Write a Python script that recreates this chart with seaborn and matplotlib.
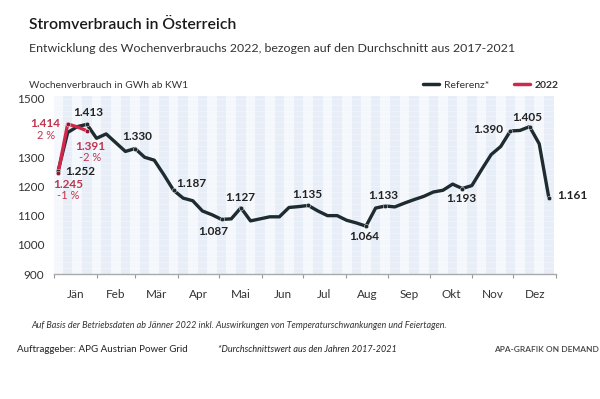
import numpy as np
import pandas as pd
import seaborn as sns
import matplotlib.pyplot as plt
from matplotlib.lines import Line2D

#######################################################################
# Data (weekly consumption in GWh)
#######################################################################

weeks = list(range(1, 53))

referenz = [
    1252, 1385, 1405, 1413, 1365, 1380, 1350, 1320, 1330, 1300,
    1290, 1240, 1187, 1160, 1151, 1116, 1103, 1087, 1089, 1127,
    1082, 1089, 1096, 1096, 1128, 1131, 1135, 1116, 1100, 1100,
    1084, 1075, 1064, 1126, 1133, 1130, 1143, 1155, 1166, 1181,
    1187, 1208, 1193, 1203, 1257, 1309, 1337, 1390, 1392, 1405,
    1346, 1161,
]

weeks_2022 = [1, 2, 3, 4]
werte_2022 = [1245, 1414, 1404, 1391]

months = ["Jän", "Feb", "Mär", "Apr", "Mai", "Jun",
          "Jul", "Aug", "Sep", "Okt", "Nov", "Dez"]
month_days = [31, 28, 31, 30, 31, 30, 31, 31, 30, 31, 30, 31]

# y tick labels (1400 is covered by the "1.414" label in the original)
y_ticks = [900, 1000, 1100, 1200, 1300, 1400, 1500]
y_tick_labels = ["900", "1000", "1100", "1200", "1300", "", "1500"]

# labelled points of the reference line: week, label
ref_labels_week = [1, 4, 9, 13, 18, 20, 27, 33, 35, 43, 48, 50, 52]
ref_labels_text = ["1.252", "1.413", "1.330", "1.187", "1.087", "1.127", "1.135",
                   "1.064", "1.133", "1.193", "1.390", "1.405", "1.161"]

# labelled points of 2022: week, value label, change label
red_labels_week = [2, 4, 1]
red_labels_text = ["1.414", "1.391", "1.245"]
red_labels_pct = ["2 %", "-2 %", "-1 %"]

#######################################################################
# Styling
#######################################################################

DARK = "#1e2b30"
RED = "#d0284a"
RED_TXT = "#c0344e"
FONT = "Lato"

sns.set_style("white")
plt.rcParams["font.family"] = [FONT, "DejaVu Sans"]

fig = plt.figure(figsize=(6, 3.99), dpi=100)
ax = fig.add_axes([54 / 600, 1 - 274 / 399, 502 / 600, 178 / 399])

# weekly background stripes
for w in weeks:
    col = "#e8eef7" if w % 2 == 0 else "#f4f7fb"
    ax.axvspan(w - 0.5, w + 0.5, color=col, lw=0, zorder=0)
for y in range(900, 1520, 20):
    ax.axhline(y, color="white", lw=0.4, alpha=0.6, zorder=0.5)

#######################################################################
# Lines
#######################################################################

df = pd.concat([
    pd.DataFrame({"KW": weeks, "GWh": referenz, "Serie": "Referenz*"}),
    pd.DataFrame({"KW": weeks_2022, "GWh": werte_2022, "Serie": "2022"}),
])

sns.lineplot(data=df, x="KW", y="GWh", hue="Serie",
             palette={"Referenz*": DARK, "2022": RED},
             linewidth=2.4, legend=False, ax=ax, zorder=3)

ref_vals = [referenz[w - 1] for w in ref_labels_week]
red_vals = [werte_2022[weeks_2022.index(w)] for w in red_labels_week]
sns.scatterplot(x=ref_labels_week, y=ref_vals, color=DARK, s=10,
                edgecolor="white", linewidth=0.3, ax=ax, zorder=4)
sns.scatterplot(x=red_labels_week, y=red_vals, color="#8a1a30", s=10,
                edgecolor="white", linewidth=0.3, ax=ax, zorder=5)

# label offsets in pixels (dx, dy, ha)
ref_offsets = [(7, 0, "left"), (1, 12, "center"), (2, 12, "center"),
               (3, 7, "left"), (-8, -12, "center"), (-1, 10, "center"),
               (-1, 11, "center"), (-2, -10, "center"), (-2, 11, "center"),
               (-1, -10, "center"), (-7, 2, "right"), (-2, 9, "center"),
               (8, 2, "left")]
for w, v, t, (dx, dy, ha) in zip(ref_labels_week, ref_vals, ref_labels_text, ref_offsets):
    ax.annotate(t, (w, v), xytext=(dx, dy), textcoords="offset pixels",
                ha=ha, va="center", fontsize=8.5, fontweight="bold",
                color="#222222", annotation_clip=False, zorder=6)

red_offsets = [(-22, 1, -11), (3.5, -16, -27), (10, -11, -22)]
for w, v, t, p, (dx, dy, dy2) in zip(red_labels_week, red_vals, red_labels_text,
                                     red_labels_pct, red_offsets):
    ax.annotate(t, (w, v), xytext=(dx, dy), textcoords="offset pixels",
                ha="center", va="center", fontsize=8.5, fontweight="bold",
                color=RED_TXT, annotation_clip=False, zorder=6)
    ax.annotate(p, (w, v), xytext=(dx, dy2), textcoords="offset pixels",
                ha="center", va="center", fontsize=8,
                color=RED_TXT, annotation_clip=False, zorder=6)

#######################################################################
# Axes
#######################################################################

ax.set_xlim(0.58, 52.6)
ax.set_ylim(900, 1510)
ax.set_yticks(y_ticks)
ax.set_yticklabels(y_tick_labels)
ax.set_xlabel("")
ax.set_ylabel("")

bounds = 0.6 + np.concatenate([[0], np.cumsum(month_days)]) / 7
ax.set_xticks(bounds)
ax.set_xticklabels([])
ax.set_xticks((bounds[:-1] + bounds[1:]) / 2, minor=True)
ax.set_xticklabels(months, minor=True)
ax.tick_params(axis="x", which="major", length=3, color="#999999", width=0.8,
               direction="out", bottom=True)
ax.tick_params(axis="x", which="minor", length=0, pad=11, labelsize=8.5,
               labelcolor="#333333")
ax.tick_params(axis="y", length=0, pad=7, labelsize=8.5, labelcolor="#333333")

for s in ["top", "right", "left"]:
    ax.spines[s].set_visible(False)
ax.spines["bottom"].set_color("#aaaaaa")
ax.spines["bottom"].set_linewidth(1)

#######################################################################
# Texts around the chart
#######################################################################

fig.text(29 / 600, 1 - 25 / 399, "Stromverbrauch in Österreich",
         fontsize=11.3, color="#1a1a1a", va="center", fontweight="semibold")
fig.text(29 / 600, 1 - 48 / 399,
         "Entwicklung des Wochenverbrauchs 2022, bezogen auf den Durchschnitt aus 2017-2021",
         fontsize=8.9, color="#333333", va="center")
fig.text(29 / 600, 1 - 85 / 399, "Wochenverbrauch in GWh ab KW1",
         fontsize=7.3, color="#333333", va="center")

handles = [Line2D([], [], color=DARK, lw=2.5), Line2D([], [], color=RED, lw=2.5)]
leg = fig.legend(handles, ["Referenz*", "2022"], loc="center left",
                 bbox_to_anchor=(423 / 600, 1 - 85 / 399), ncol=2, frameon=False,
                 fontsize=7.5, handlelength=1.5, handletextpad=0.5,
                 columnspacing=2.4, borderaxespad=0, borderpad=0)
for t in leg.get_texts():
    t.set_color("#333333")
leg.get_texts()[1].set_fontweight("bold")

fig.text(31 / 600, 1 - 325 / 399,
         "Auf Basis der Betriebsdaten ab Jänner 2022 inkl. Auswirkungen von "
         "Temperaturschwankungen und Feiertagen.",
         fontsize=6.5, style="italic", color="#333333", va="center")
fig.text(17 / 600, 1 - 350 / 399, "Auftraggeber: APG Austrian Power Grid",
         fontsize=7, color="#222222", va="center")
fig.text(218 / 600, 1 - 350 / 399, "*Durchschnittswert aus den Jahren 2017-2021",
         fontsize=6.5, style="italic", color="#222222", va="center")
fig.text(599 / 600, 1 - 350 / 399, "APA-GRAFIK ON DEMAND",
         fontsize=6, color="#444444", va="center", ha="right", fontweight="semibold")

plt.savefig("out.png", dpi=100)
